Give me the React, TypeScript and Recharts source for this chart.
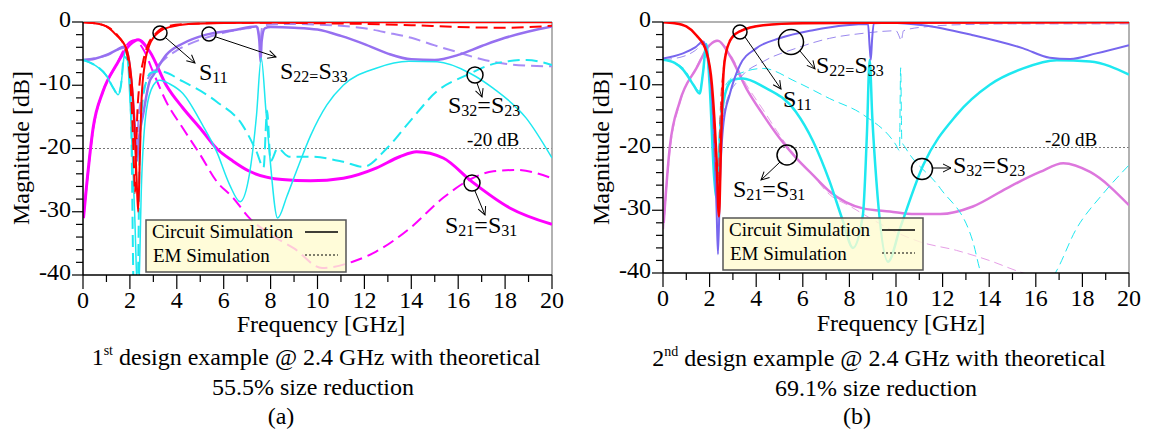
import { Line, LineChart, ReferenceLine, XAxis, YAxis } from 'recharts'

const FONT = '"Liberation Serif", "Times New Roman", Times, serif'

const freqTicks = [0, 1, 2, 3, 4, 5, 6, 7, 8, 9, 10, 11, 12, 13, 14, 15, 16, 17, 18, 19, 20]
const dbTicks = [0, -2, -4, -6, -8, -10, -12, -14, -16, -18, -20, -22, -24, -26, -28, -30, -32, -34, -36, -38, -40]

// (a) first design example
const aS11CircF = [0, 0.5, 1.0, 1.4, 1.85, 2.13, 2.28, 2.35, 2.42, 2.5, 2.63, 2.84, 3.27, 3.8, 4.5, 6, 10, 15, 20]
const aS11CircDb = [-0.05, -0.2, -0.7, -2.0, -4.2, -12, -24, -30, -22, -12, -6.8, -3.6, -1.5, -0.7, -0.3, -0.15, -0.05, -0.05, -0.05]
const aS11EmF = [0, 0.5, 1.0, 1.4, 1.85, 2.06, 2.15, 2.22, 2.3, 2.42, 2.56, 2.77, 3.06, 3.55, 4.5, 7, 10, 12, 14, 16, 18, 20]
const aS11EmDb = [-0.05, -0.2, -0.7, -1.8, -4.7, -12, -20, -27, -16, -9.4, -6.3, -3.6, -2.0, -0.7, -0.3, -0.1, -0.2, -0.3, -0.5, -0.8, -0.9, -0.6]

const aS22CircF = [0, 0.5, 1.0, 1.4, 1.75, 1.9, 2.05, 2.2, 2.3, 2.4, 2.56, 2.84, 3.0, 3.55, 4.26, 5.26, 6.4, 7.4, 7.52, 7.57, 7.62, 7.75, 8, 9, 10, 11, 12, 13, 14, 15, 16, 17, 18, 19, 20]
const aS22CircDb = [-6, -5.8, -5.2, -4.5, -3.9, -5, -9, -16, -22, -18, -14.7, -9.4, -8.4, -5.2, -3.4, -2.0, -1.3, -0.7, -3, -6.3, -3, -1, -0.8, -0.9, -1.2, -2.2, -3.5, -5, -5.9, -6, -5.2, -3.8, -2.5, -1.5, -0.7]
const aS22EmF = [0, 1.0, 1.75, 1.95, 2.1, 2.25, 2.4, 2.6, 3.0, 3.5, 4.0, 5.0, 6.0, 7.0, 7.45, 7.55, 7.65, 8, 9, 10, 11, 12, 13, 14, 15, 16, 17, 18, 19, 20]
const aS22EmDb = [-6, -5.3, -4.1, -6, -11, -20, -14, -10.5, -7.8, -5.8, -4.5, -2.8, -1.7, -1.0, -0.8, -3.2, -0.6, -0.4, -0.3, -0.4, -0.6, -1.0, -1.7, -2.5, -3.7, -4.8, -5.9, -6.6, -6.9, -7]

const aS32CircF = [0, 0.5, 1.0, 1.3, 1.5, 1.62, 1.75, 1.85, 2.0, 2.2, 2.35, 2.5, 2.7, 3.0, 3.27, 3.7, 4.26, 5.1, 5.7, 6.25, 6.7, 7.1, 7.4, 7.6, 7.8, 7.96, 8.3, 8.7, 9.1, 9.7, 10.4, 11.1, 12.5, 13.9, 15.1, 16.5, 17.5, 18.9, 20]
const aS32CircDb = [-6, -6.8, -8.5, -10.5, -11.5, -10, -5.5, -4.4, -12, -30, -45, -25, -14, -10, -9.2, -9.8, -11.3, -16.3, -20.5, -25.7, -28.4, -24, -14.7, -5.7, -14, -21, -31, -27.5, -23.6, -18, -13.1, -10, -7.3, -6.2, -6.3, -8.1, -10.5, -15.2, -21.5]
const aS32EmF = [0, 0.5, 1.0, 1.3, 1.5, 1.62, 1.75, 1.9, 2.05, 2.18, 2.32, 2.42, 2.6, 2.9, 3.3, 4.26, 5.7, 6.8, 7.4, 7.7, 7.85, 8.0, 8.3, 8.8, 9.7, 11.1, 11.95, 12.95, 13.94, 15.08, 16.36, 17.64, 18.92, 20]
const aS32EmDb = [-6, -6.8, -8.5, -10.5, -11.5, -10, -5.5, -6, -15, -45, -45, -20, -11, -8, -7.8, -9.4, -12.6, -16.3, -20.5, -23, -14, -22, -20, -21.3, -21.3, -22.1, -22.9, -20, -15.7, -11, -8.4, -6.5, -6, -6.8]

const aS21CircF = [0.02, 0.15, 0.43, 0.85, 1.42, 2.0, 2.35, 2.85, 3.55, 4.26, 5.0, 5.7, 6.4, 7.1, 8.5, 9.7, 11.1, 12.5, 13.5, 14.23, 15.36, 16.57, 18.2, 20]
const aS21CircDb = [-31, -26, -16.8, -11, -6.8, -3.6, -2.8, -4.7, -10, -13.6, -16.8, -20, -22, -23.6, -24.9, -25.1, -24.7, -23.1, -21.3, -20.5, -21.5, -25.2, -29.4, -32]
const aS21EmF = [0.02, 0.15, 0.43, 0.85, 1.42, 1.9, 2.2, 2.6, 3.0, 3.55, 4.26, 5.0, 5.7, 6.4, 7.1, 8.0, 9.0, 10.2, 11.5, 12.5, 13.94, 15.36, 16.5, 17.5, 18.5, 20]
const aS21EmDb = [-31, -26, -17, -11, -6.8, -3.5, -2.9, -4.5, -8, -12.6, -16.8, -21, -25.2, -27.8, -31, -33.6, -35.8, -38.9, -37.9, -36.3, -32.6, -27.8, -24.9, -23.6, -23.4, -24.7]

// (b) second design example
const bS11CircF = [0, 0.5, 1.0, 1.43, 1.86, 2.1, 2.3, 2.4, 2.5, 2.6, 2.72, 3.0, 3.3, 4.3, 6, 10, 20]
const bS11CircDb = [-0.05, -0.2, -0.7, -2.1, -4.7, -10, -22, -31, -18, -8, -4.7, -2.3, -1.5, -0.5, -0.2, -0.1, -0.05]
const bS11EmF = [0, 0.5, 1.0, 1.43, 1.86, 2.1, 2.28, 2.36, 2.46, 2.6, 2.72, 3.0, 3.3, 4.3, 6, 10, 20]
const bS11EmDb = [-0.05, -0.2, -0.7, -2.0, -4.5, -11, -24, -26, -14, -7, -4.3, -2.1, -1.4, -0.5, -0.2, -0.1, -0.1]

const bS22CircF = [0, 0.86, 1.4, 1.72, 1.9, 2.1, 2.3, 2.36, 2.45, 2.6, 2.86, 3.3, 4.0, 5.0, 6.44, 7.87, 8.8, 8.87, 8.92, 8.97, 9.05, 9.74, 11.17, 13.3, 15.46, 16.6, 17.47, 18.6, 20]
const bS22CircDb = [-5.8, -5, -4, -3.1, -5, -12, -30, -37, -25, -16, -11.6, -6.9, -4.2, -2.6, -1.3, -0.5, -0.3, -4, -6, -3, -0.2, -0.1, -0.5, -2.1, -4.2, -5.7, -5.9, -5, -3.7]
const bS22EmF = [0, 0.86, 1.4, 1.72, 1.9, 2.1, 2.3, 2.45, 2.7, 3.3, 4.3, 5.7, 7.15, 8.6, 10.0, 10.15, 10.22, 10.32, 11.17, 13, 15, 20]
const bS22EmDb = [-6, -5.5, -4.5, -3.5, -6, -14, -28, -20, -13, -9, -6.3, -4.2, -2.6, -1.8, -1.4, -2.4, -3, -1.4, -0.8, -0.4, -0.3, -0.3]

const bS32CircF = [0, 0.5, 0.86, 1.3, 1.57, 1.72, 1.86, 2.0, 2.2, 2.3, 2.45, 2.7, 3.0, 3.43, 4.3, 5.7, 6.44, 7.15, 7.73, 8.15, 8.58, 8.75, 8.87, 8.98, 9.16, 9.66, 10.17, 11.17, 12.6, 14.03, 15.46, 16.9, 18.33, 20]
const bS32CircDb = [-6, -6.5, -7.6, -10, -11.4, -8, -3.5, -10, -25, -28, -18, -11, -9.2, -9, -10.3, -14.3, -19, -25.4, -31.8, -36, -30.7, -18, -6, -15, -25.4, -38.2, -32.9, -22.8, -14.8, -10, -7.4, -6.1, -6.3, -8.4]
const bS32EmF = [0, 0.86, 1.3, 1.57, 1.72, 1.86, 2.0, 2.2, 2.3, 2.45, 2.7, 3.3, 4.3, 5.7, 7.15, 8.6, 10.0, 10.15, 10.2, 10.25, 10.4, 11.9, 13.3, 13.7, 15, 16.75, 17.75, 18.9, 20]
const bS32EmDb = [-6, -7.3, -9.8, -11, -8, -5, -10, -22, -26, -15, -10, -8.2, -7.4, -9.5, -12.2, -14.8, -19.6, -20.5, -7.3, -19, -20, -26.5, -35, -40.5, -45, -40.5, -32.9, -27.3, -22.8]

const bS21CircF = [0.03, 0.29, 0.72, 1.43, 2.0, 2.36, 2.86, 3.58, 4.3, 5.0, 5.72, 6.44, 7.15, 8.58, 9.74, 10.8, 11.9, 13.3, 14.75, 16.18, 17.18, 18.33, 20]
const bS21CircDb = [-32, -20, -12.7, -7.4, -3.7, -3, -5.3, -10.6, -14.8, -18.5, -21.7, -24.4, -27, -29.7, -30.2, -30.6, -30.6, -29.4, -26.5, -23.9, -22.5, -23.9, -29.2]
const bS21EmF = [0.03, 0.29, 0.72, 1.43, 2.0, 2.3, 2.86, 3.58, 4.3, 5.0, 5.72, 6.44, 7.15, 8.0, 9.0, 10, 11, 12.6, 14, 15.46, 16.5]
const bS21EmDb = [-33, -21, -13, -7.2, -3.5, -2.9, -5, -10, -14, -18, -21.5, -24.5, -27.5, -29.3, -31.5, -33.5, -35, -36.4, -38, -40, -41]

type Series = { name: string; f: number[]; db: number[]; color: string; width: number; dash?: string }

const DASH_A = '12 6'
const DASH_B = '9 5'

const seriesA: Series[] = [
  { name: 'S21 EM', f: aS21EmF, db: aS21EmDb, color: '#ff00ff', width: 2, dash: DASH_A },
  { name: 'S21 circuit', f: aS21CircF, db: aS21CircDb, color: '#ff00ff', width: 3 },
  { name: 'S22 EM', f: aS22EmF, db: aS22EmDb, color: '#a98cf6', width: 2, dash: DASH_A },
  { name: 'S22 circuit', f: aS22CircF, db: aS22CircDb, color: '#9670f0', width: 2.5 },
  { name: 'S32 EM', f: aS32EmF, db: aS32EmDb, color: '#1ee8f0', width: 2, dash: DASH_A },
  { name: 'S32 circuit', f: aS32CircF, db: aS32CircDb, color: '#1ee8f0', width: 1.5 },
  { name: 'S11 EM', f: aS11EmF, db: aS11EmDb, color: '#ff0000', width: 2, dash: DASH_A },
  { name: 'S11 circuit', f: aS11CircF, db: aS11CircDb, color: '#ff0000', width: 2 },
]

const seriesB: Series[] = [
  { name: 'S21 EM', f: bS21EmF, db: bS21EmDb, color: '#e69ee6', width: 1, dash: DASH_B },
  { name: 'S21 circuit', f: bS21CircF, db: bS21CircDb, color: '#dd77dd', width: 2.5 },
  { name: 'S22 EM', f: bS22EmF, db: bS22EmDb, color: '#9a88ee', width: 1, dash: DASH_B },
  { name: 'S32 EM', f: bS32EmF, db: bS32EmDb, color: '#1ee8f0', width: 1, dash: DASH_B },
  { name: 'S32 circuit', f: bS32CircF, db: bS32CircDb, color: '#1ee8f0', width: 2.5 },
  { name: 'S22 circuit', f: bS22CircF, db: bS22CircDb, color: '#7766ee', width: 2 },
  { name: 'S11 EM', f: bS11EmF, db: bS11EmDb, color: '#ff3030', width: 1, dash: DASH_B },
  { name: 'S11 circuit', f: bS11CircF, db: bS11CircDb, color: '#ff0000', width: 2.5 },
]

const toPoints = (f: number[], db: number[]) => f.map((x, i) => ({ f: x, db: db[i] }))

const PLOT_LEFT = 83
const CHART_W = 580
const CHART_H = 320

type PanelProps = { left: number; rightMargin: number; bottom: number; series: Series[] }

const Panel = ({ left, rightMargin, bottom, series }: PanelProps) => {
  const renderXTick = (props: any) => {
    const v = props.payload.value as number
    const major = v % 2 === 0
    return (
      <g>
        <line x1={props.x} x2={props.x} y1={bottom} y2={bottom + (major ? 14 : 7)} stroke="#000" strokeWidth={1.2} />
        {major && (
          <text x={props.x} y={bottom + 33} textAnchor="middle" fontSize={24} fontFamily={FONT} fill="#000">
            {v}
          </text>
        )}
      </g>
    )
  }

  const renderYTick = (props: any) => {
    const v = props.payload.value as number
    const major = v % 10 === 0
    return (
      <g>
        <line x1={PLOT_LEFT - (major ? 11 : 7)} x2={PLOT_LEFT} y1={props.y} y2={props.y} stroke="#000" strokeWidth={1.2} />
        {major && (
          <text x={PLOT_LEFT - 12} y={props.y + 5} textAnchor="end" fontSize={24} fontFamily={FONT} fill="#000">
            {v}
          </text>
        )}
      </g>
    )
  }

  return (
    <div style={{ position: 'absolute', left, top: 0 }}>
      <LineChart width={CHART_W} height={CHART_H} margin={{ top: 22, right: rightMargin, bottom: 0, left: 0 }}>
        <XAxis
          dataKey="f"
          type="number"
          domain={[0, 20]}
          ticks={freqTicks}
          interval={0}
          allowDataOverflow
          height={CHART_H - bottom}
          tickLine={false}
          axisLine={{ stroke: '#000', strokeWidth: 1.5 }}
          tick={renderXTick}
        />
        <YAxis
          type="number"
          domain={[-40, 0]}
          ticks={dbTicks}
          interval={0}
          allowDataOverflow
          width={PLOT_LEFT}
          tickLine={false}
          axisLine={{ stroke: '#000', strokeWidth: 1.5 }}
          tick={renderYTick}
        />
        <ReferenceLine y={-20} stroke="#777" strokeWidth={1.2} strokeDasharray="2 2" />
        <ReferenceLine y={0} stroke="#999" strokeWidth={1.5} />
        <ReferenceLine x={20} stroke="#999" strokeWidth={1.5} />
        {series.map((s) => (
          <Line
            key={s.name}
            name={s.name}
            data={toPoints(s.f, s.db)}
            dataKey="db"
            type="monotone"
            stroke={s.color}
            strokeWidth={s.width}
            strokeDasharray={s.dash}
            dot={false}
            activeDot={false}
            isAnimationActive={false}
          />
        ))}
      </LineChart>
    </div>
  )
}

type Part = [string, boolean]

const SLabel = ({ x, y, parts }: { x: number; y: number; parts: Part[] }) => (
  <text x={x} y={y} fontFamily={FONT} fill="#000">
    {parts.map(([t, sub], i) => (
      <tspan key={i} y={sub ? y + 3 : y} fontSize={sub ? 16 : 24}>
        {t}
      </tspan>
    ))}
  </text>
)

const Callout = ({ cx, cy, r, x1, y1, x2, y2 }: { cx: number; cy: number; r: number; x1: number; y1: number; x2: number; y2: number }) => (
  <g>
    <circle cx={cx} cy={cy} r={r} fill="none" stroke="#000" strokeWidth={1.5} />
    <line x1={x1} y1={y1} x2={x2} y2={y2} stroke="#000" strokeWidth={1} markerEnd="url(#arrowHead)" />
  </g>
)

const LegendBox = ({ x, y }: { x: number; y: number }) => (
  <g fontFamily={FONT} fontSize={19} fill="#000">
    <rect x={x} y={y} width={200} height={52} fill="#fffbd0" fillOpacity={0.8} stroke="#555" strokeWidth={1.5} />
    <text x={x + 6} y={y + 18}>Circuit Simulation</text>
    <text x={x + 7} y={y + 42}>EM Simulation</text>
    <line x1={x + 159} x2={x + 192} y1={y + 12} y2={y + 12} stroke="#000" strokeWidth={1.5} />
    <line x1={x + 159} x2={x + 192} y1={y + 35} y2={y + 35} stroke="#000" strokeWidth={1.2} strokeDasharray="2 2" />
  </g>
)

const S11: Part[] = [['S', false], ['11', true]]
const S22: Part[] = [['S', false], ['22', true], ['=', true], ['S', false], ['33', true]]
const S32: Part[] = [['S', false], ['32', true], ['=', false], ['S', false], ['23', true]]
const S21: Part[] = [['S', false], ['21', true], ['=', false], ['S', false], ['31', true]]

const Overlay = () => (
  <svg width={1165} height={439} style={{ position: 'absolute', left: 0, top: 0, pointerEvents: 'none' }}>
    <defs>
      <marker id="arrowHead" markerWidth={10} markerHeight={10} refX={9} refY={5} orient="auto" markerUnits="userSpaceOnUse">
        <path d="M1,1 L9,5 L1,9" fill="none" stroke="#000" strokeWidth={1} />
      </marker>
    </defs>
    <g fontFamily={FONT} fill="#000">
      <text transform="translate(29,148) rotate(-90)" textAnchor="middle" fontSize={24}>Magnitude [dB]</text>
      <text transform="translate(609,148) rotate(-90)" textAnchor="middle" fontSize={24}>Magnitude [dB]</text>
      <text x={321} y={332} textAnchor="middle" fontSize={24}>Frequency [GHz]</text>
      <text x={901} y={331} textAnchor="middle" fontSize={24}>Frequency [GHz]</text>

      <text x={316} y={365} textAnchor="middle" fontSize={24}>
        1<tspan fontSize={14} dy={-10}>st</tspan>
        <tspan dy={10}> design example @ 2.4 GHz with theoretical</tspan>
      </text>
      <text x={313} y={395} textAnchor="middle" fontSize={24}>55.5% size reduction</text>
      <text x={281} y={424} textAnchor="middle" fontSize={24}>(a)</text>

      <text x={879} y={366} textAnchor="middle" fontSize={24}>
        2<tspan fontSize={14} dy={-10}>nd</tspan>
        <tspan dy={10}> design example @ 2.4 GHz with theoretical</tspan>
      </text>
      <text x={876} y={396} textAnchor="middle" fontSize={24}>69.1% size reduction</text>
      <text x={857} y={424} textAnchor="middle" fontSize={24}>(b)</text>

      <text x={467} y={146} fontSize={19}>-20 dB</text>
      <text x={1045} y={146} fontSize={19}>-20 dB</text>
    </g>

    <LegendBox x={146} y={220} />
    <LegendBox x={723} y={218} />

    <Callout cx={160} cy={33} r={7} x1={166} y1={38} x2={195} y2={63} />
    <SLabel x={199} y={80} parts={S11} />
    <Callout cx={209} cy={34} r={7} x1={216} y1={37} x2={276} y2={57} />
    <SLabel x={280} y={79} parts={S22} />
    <Callout cx={475} cy={75} r={8} x1={477} y1={83} x2={482} y2={97} />
    <SLabel x={448} y={113} parts={S32} />
    <Callout cx={472} cy={183} r={8} x1={475} y1={191} x2={485} y2={215} />
    <SLabel x={445} y={233} parts={S21} />

    <Callout cx={740} cy={32} r={7} x1={745} y1={37} x2={781} y2={89} />
    <SLabel x={783} y={107} parts={S11} />
    <Callout cx={791} cy={42} r={12.5} x1={800} y1={51} x2={815} y2={69} />
    <SLabel x={816} y={73} parts={S22} />
    <Callout cx={787} cy={155} r={10} x1={780} y1={162} x2={761} y2={180} />
    <SLabel x={733} y={197} parts={S21} />
    <Callout cx={922} cy={169} r={10.5} x1={933} y1={168} x2={951} y2={168} />
    <SLabel x={953} y={173} parts={S32} />
  </svg>
)

export default function App() {
  return (
    <div style={{ position: 'absolute', left: 0, top: 0, width: 1165, height: 439, background: '#fff' }}>
      <Panel left={0} rightMargin={28} bottom={275} series={seriesA} />
      <Panel left={580} rightMargin={31} bottom={273} series={seriesB} />
      <Overlay />
    </div>
  )
}
